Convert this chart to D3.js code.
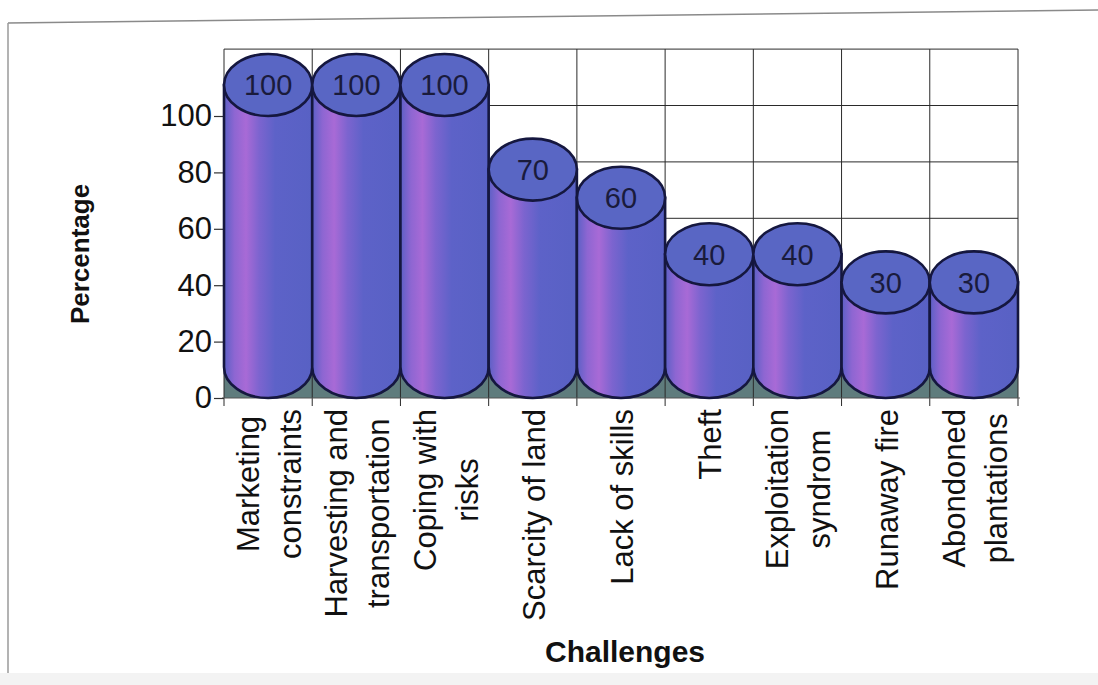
<!DOCTYPE html>
<html>
<head>
<meta charset="utf-8">
<script src="https://cdn.jsdelivr.net/npm/d3@7"></script>
<style>
  html, body { margin: 0; padding: 0; background: #ffffff; }
  svg { display: block; }
  text { font-family: "Liberation Sans", Arial, Helvetica, sans-serif; }
</style>
</head>
<body>
<svg id="chart" width="1098" height="685"></svg>
<script>
// ---- data ----
const categories = [
  "Marketing\nconstraints",
  "Harvesting and\ntransportation",
  "Coping with\nrisks",
  "Scarcity of land",
  "Lack of skills",
  "Theft",
  "Exploitation\nsyndrom",
  "Runaway fire",
  "Abondoned\nplantations"
];
const values = [100, 100, 100, 70, 60, 40, 40, 30, 30];
const yTickValues = [0, 20, 40, 60, 80, 100];
const gridValues = [20, 40, 60, 80, 100, 120];
const yTitle = "Percentage";
const xTitle = "Challenges";

// ---- layout ----
const W = 1098, H = 685;
const plotLeft = 224, plotRight = 1018;
const baseY = 398;
const backOffset = 10.5;   // back wall shift (depth)
const floorBackY = 369;
const ry = 31;             // ellipse vertical radius

const svg = d3.select("#chart");

// outer frame
svg.append("rect").attr("x", 0).attr("y", 673).attr("width", W).attr("height", H - 673).attr("fill", "#f3f3f3");
svg.append("line").attr("x1", 8).attr("y1", 23).attr("x2", W).attr("y2", 10).attr("stroke", "#8a8a8a").attr("stroke-width", 1.5);
svg.append("line").attr("x1", 8).attr("y1", 23).attr("x2", 8).attr("y2", 673).attr("stroke", "#9a9a9a").attr("stroke-width", 1.5);

const x = d3.scaleBand().domain(categories).range([plotLeft, plotRight]).padding(0);
const y = d3.scaleLinear().domain([0, 120]).range([baseY, baseY - 120 * 2.82]);
const yBack = v => y(v) - backOffset;

const gridColor = "#2a2a2a";

// back wall
const wall = svg.append("g");
wall.append("rect")
  .attr("x", plotLeft).attr("y", yBack(120))
  .attr("width", plotRight - plotLeft).attr("height", baseY - yBack(120))
  .attr("fill", "#ffffff");
wall.selectAll("line.h").data(gridValues).join("line")
  .attr("class", "h")
  .attr("x1", plotLeft).attr("x2", plotRight)
  .attr("y1", d => yBack(d)).attr("y2", d => yBack(d))
  .attr("stroke", gridColor).attr("stroke-width", 1);

// floor
svg.append("rect")
  .attr("x", plotLeft).attr("y", floorBackY)
  .attr("width", plotRight - plotLeft).attr("height", baseY - floorBackY)
  .attr("fill", "#5f7c7d");

// vertical grid lines at category boundaries (through wall + floor, with ticks below)
const bounds = categories.map(c => x(c)).concat([x(categories[categories.length - 1]) + x.bandwidth()]);
svg.append("g").selectAll("line").data(bounds).join("line")
  .attr("x1", d => d).attr("x2", d => d)
  .attr("y1", yBack(120)).attr("y2", baseY + 8)
  .attr("stroke", gridColor).attr("stroke-width", 1);

// front axis line
svg.append("line")
  .attr("x1", plotLeft - 2).attr("x2", plotRight + 2)
  .attr("y1", baseY).attr("y2", baseY)
  .attr("stroke", "#555").attr("stroke-width", 1.2);

// y axis
const yAxis = svg.append("g")
  .attr("transform", `translate(${plotLeft},0)`)
  .call(d3.axisLeft(y).tickValues(yTickValues).tickSize(10).tickPadding(2));
yAxis.select(".domain").remove();
yAxis.selectAll(".tick line").attr("stroke", "#333").attr("stroke-width", 1.2);
yAxis.selectAll(".tick text")
  .attr("font-size", 31).attr("fill", "#111")
  .attr("font-family", "'Liberation Sans', Arial, sans-serif");

// gradient for cylinder bodies
const defs = svg.append("defs");
const grad = defs.append("linearGradient").attr("id", "body").attr("x1", "0%").attr("x2", "100%").attr("y1", "0%").attr("y2", "0%");
[["0%", "#5b60c6"], ["12%", "#8e66d2"], ["25%", "#a86ad6"], ["40%", "#7c64cf"], ["58%", "#5d62c8"], ["100%", "#5861c4"]]
  .forEach(([o, c]) => grad.append("stop").attr("offset", o).attr("stop-color", c));

const strokeC = "#15173f";
const rx = x.bandwidth() / 2;
const yc0 = baseY - ry;

const cyl = svg.append("g").selectAll("g").data(categories).join("g");
cyl.append("path")
  .attr("d", (c, i) => {
    const cx = x(c) + rx;
    const top = yc0 - (y(0) - y(values[i]));
    return `M${cx - rx},${top} L${cx - rx},${yc0} A${rx},${ry} 0 0 0 ${cx + rx},${yc0} L${cx + rx},${top} Z`;
  })
  .attr("fill", "url(#body)")
  .attr("stroke", strokeC).attr("stroke-width", 2.6);
cyl.append("ellipse")
  .attr("cx", c => x(c) + rx)
  .attr("cy", (c, i) => yc0 - (y(0) - y(values[i])))
  .attr("rx", rx).attr("ry", ry)
  .attr("fill", "#5966c4")
  .attr("stroke", strokeC).attr("stroke-width", 2.6);
cyl.append("text")
  .attr("x", c => x(c) + rx)
  .attr("y", (c, i) => yc0 - (y(0) - y(values[i])))
  .attr("dy", "0.36em")
  .attr("text-anchor", "middle")
  .attr("font-size", 29)
  .attr("fill", "#1a1b3c")
  .text((c, i) => values[i]);

// category labels (rotated, centered lines, block anchored at top)
const labTop = 409;
const lineGap = 42;
categories.forEach(c => {
  const lines = c.split("\n");
  const cx = x(c) + rx;
  const g = svg.append("g");
  const texts = lines.map((ln, j) => g.append("text")
    .attr("font-size", 31).attr("fill", "#111")
    .attr("text-anchor", "middle")
    .text(ln));
  const maxLen = d3.max(texts, t => t.node().getComputedTextLength());
  const cy = labTop + maxLen / 2;
  texts.forEach((t, j) => {
    const bx = cx + 12 - (lines.length - 1) * 21 + j * lineGap;
    t.attr("transform", `translate(${bx},${cy}) rotate(-90)`);
  });
});

// axis titles
svg.append("text")
  .attr("transform", "translate(89,254) rotate(-90)")
  .attr("text-anchor", "middle")
  .attr("font-size", 26).attr("font-weight", "bold").attr("fill", "#111")
  .text(yTitle);
svg.append("text")
  .attr("x", 625).attr("y", 662)
  .attr("text-anchor", "middle")
  .attr("font-size", 30).attr("font-weight", "bold").attr("fill", "#111")
  .text(xTitle);
</script>
</body>
</html>
